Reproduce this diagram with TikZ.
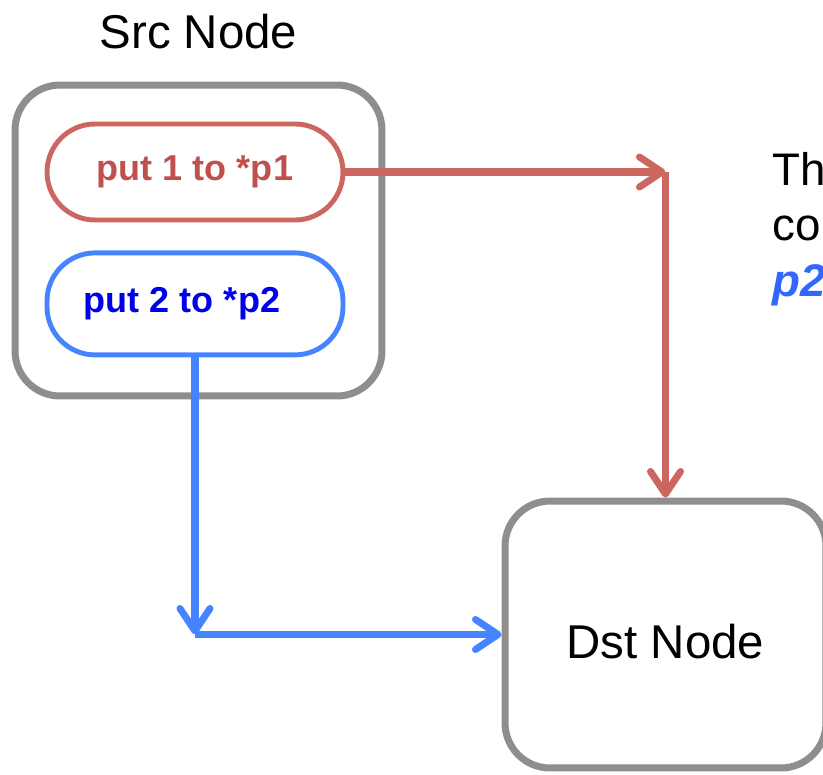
\documentclass[tikz,border=0pt]{standalone}
\usepackage{fontspec}
\setmainfont{Liberation Sans}
\usetikzlibrary{positioning,arrows.meta}

\definecolor{boxgray}{RGB}{142,142,142}
\definecolor{putred}{RGB}{204,102,96}
\definecolor{putredtext}{RGB}{192,80,77}
\definecolor{putblue}{RGB}{70,132,255}
\definecolor{putbluetext}{RGB}{0,0,235}
\definecolor{noteblue}{RGB}{51,102,255}

\begin{document}
\begin{tikzpicture}[
     x = 0.02cm,
     y = -0.02cm,
     hostnode/.style = {draw = boxgray, line width = 4pt, rounded corners = 0.9cm,
                        font = \fontsize{27}{32}\selectfont},
     putnode/.style = {line width = 2.8pt, minimum width = 5.92cm, rounded corners = 0.96cm,
                       font = \bfseries\fontsize{20.5}{24}\selectfont},
     notetext/.style = {anchor = base west, inner sep = 0pt, font = \fontsize{26}{31}\selectfont},
     putarrow/.style = {line width = 4pt,
                        -{Straight Barb[length = 0.45cm, width = 0.6cm, line cap = round, line join = round]}}
    ]

    \useasboundingbox (0,0) rectangle (823,775);
    \clip (0,0) rectangle (823,775);

    \node [hostnode, minimum width = 7.34cm, minimum height = 6.22cm] (Src) at (198.5,240.5) {};
    \node [above = 0.66cm of Src.north, anchor = base, font = \fontsize{27}{32}\selectfont] (SrcName) {Src Node};

    \node [putnode, draw = putred, text = putredtext, minimum height = 1.92cm] (P1) at (195,172) {put 1 to *p1};
    \node [putnode, draw = putblue, text = putbluetext, minimum height = 2.04cm, below = 0.56cm of P1] (P2)
      {put 2 to *p2\hspace{0.52cm}\null};

    \node [hostnode, minimum width = 6.42cm, minimum height = 5.34cm, text height = 0.94cm, text depth = 0pt]
      (Dst) at (665.5,634.5) {Dst Node};

    % text cut off by the right edge
    \node [notetext] (Note1) at (772,185) {Th};
    \node [notetext] (Note2) at (772,240) {co};
    \node [notetext, text = noteblue, font = \bfseries\itshape\fontsize{26}{31}\selectfont] (Note3) at (772,296) {p2};

    \coordinate (RedTurn) at (Dst.north |- P1.east);
    \coordinate (BlueTurn) at (P2.south |- Dst.west);

    \draw [putarrow, putred] (P1.east) -- (RedTurn);
    \draw [putarrow, putred] (RedTurn) -- (Dst.north);
    \draw [putarrow, putblue] (P2.south) -- (BlueTurn);
    \draw [putarrow, putblue] (BlueTurn) -- (Dst.west);

\end{tikzpicture}
\end{document}
